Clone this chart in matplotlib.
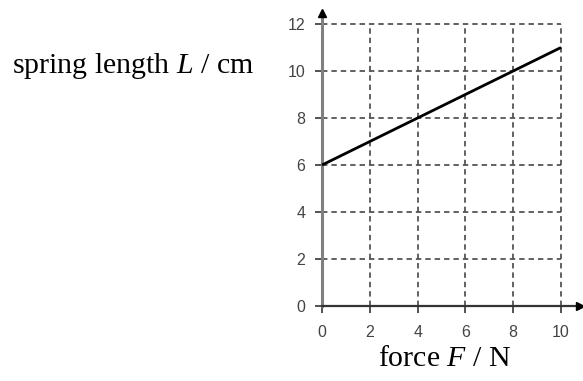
import numpy as np
import matplotlib.pyplot as plt

plt.rcParams['mathtext.fontset'] = 'custom'
plt.rcParams['mathtext.rm'] = 'Liberation Serif'
plt.rcParams['mathtext.it'] = 'Liberation Serif:italic'

# Data
force = [0, 10]          # N
length = [6, 11]         # cm
x_ticks = [0, 2, 4, 6, 8, 10]
y_ticks = [0, 2, 4, 6, 8, 10, 12]

fig = plt.figure(figsize=(5.83, 3.81), dpi=100)
ax = fig.add_axes([0.5278, 0.1598, 0.4714, 0.8143])
ax.set_xlim(-0.6, 10.9)
ax.set_ylim(-0.6, 12.6)

# dashed grid, stops at the last tick
grid_kw = dict(color='#555555', lw=1.3, linestyles=(0, (3, 2.2)), zorder=1)
ax.vlines(x_ticks[1:], 0, y_ticks[-1], **grid_kw)
ax.hlines(y_ticks[1:], 0, x_ticks[-1], **grid_kw)

ax.plot(force, length, color='black', lw=2, zorder=3, solid_capstyle='butt')

# axes through the origin with arrow heads
for s in ['top', 'right']:
    ax.spines[s].set_visible(False)
ax.spines['left'].set_position(('data', 0))
ax.spines['bottom'].set_position(('data', 0))
ax.spines['left'].set_bounds(0, 12.35)
ax.spines['bottom'].set_bounds(0, 10.75)
ax.spines['left'].set_color('#808080')
ax.spines['left'].set_linewidth(2.2)
ax.spines['bottom'].set_color('#333333')
ax.spines['bottom'].set_linewidth(1.6)
ax.plot(0, 12.45, marker='^', ms=6, color='black', clip_on=False, zorder=4)
ax.plot(10.8, 0, marker='>', ms=6, color='black', clip_on=False, zorder=4)

ax.set_xticks(x_ticks)
ax.set_yticks(y_ticks)
ax.tick_params(axis='both', direction='out', length=5, width=1.3,
               color='#444444', labelcolor='#444444', labelsize=11.5)
ax.tick_params(axis='x', pad=9)
ax.tick_params(axis='y', pad=7)
for lab in ax.get_xticklabels() + ax.get_yticklabels():
    lab.set_family('Liberation Sans')

fig.text(12 / 583, 1 - 73 / 381, 'spring length $L$ / cm', ha='left',
         va='baseline', family='Liberation Serif', fontsize=21.5)
fig.text(445 / 583, 1 - 366 / 381, 'force $F$ / N', ha='center',
         va='baseline', family='Liberation Serif', fontsize=21.5)

fig.savefig('out.png', dpi=100)
